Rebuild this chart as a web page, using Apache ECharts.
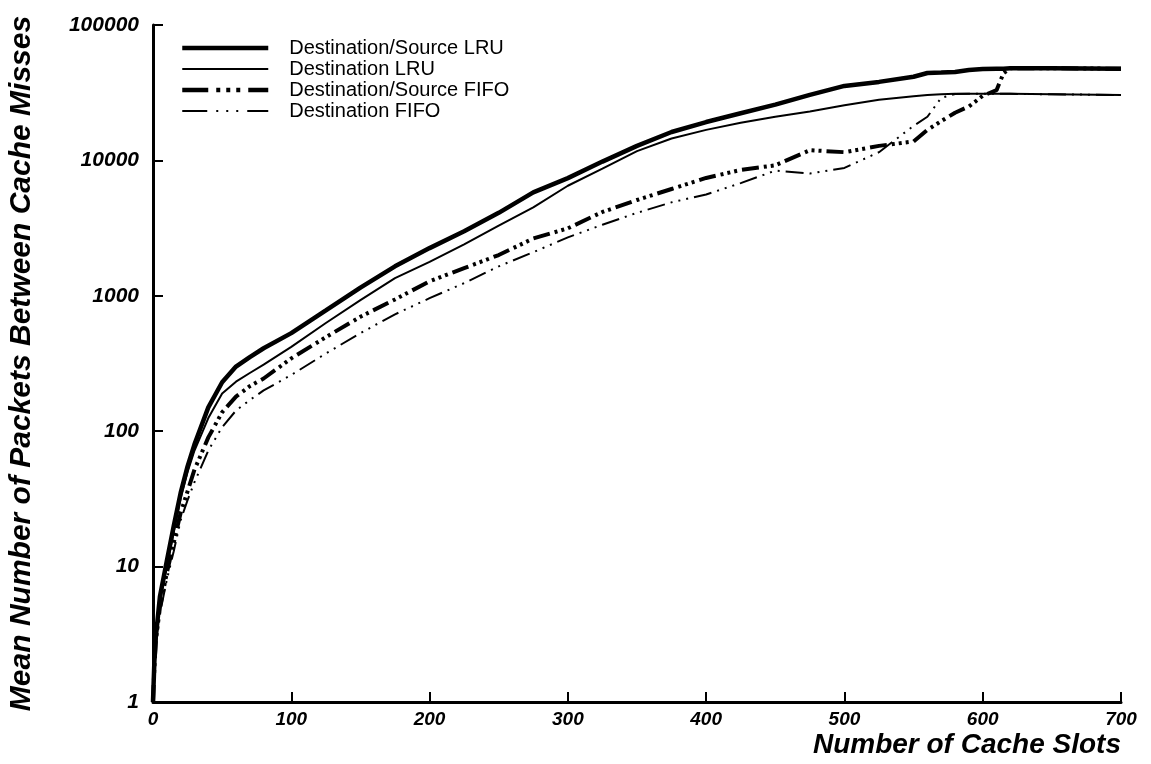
<!DOCTYPE html>
<html>
<head>
<meta charset="utf-8">
<title>Cache Misses</title>
<script src="https://cdn.jsdelivr.net/npm/echarts@6/dist/echarts.min.js"></script>
<style>
  html, body { margin: 0; padding: 0; background: #fff; }
  #main { width: 1151px; height: 764px; }
</style>
</head>
<body>
<div id="main"></div>
<script>
// number of cache slots (x)
const slots = [0, 1, 2, 5, 10, 15, 20, 25, 30, 40, 50, 60, 70, 80, 100, 125, 150, 175, 200, 225, 250, 275, 300, 325, 350, 375, 400, 425, 450, 475, 500, 525, 550, 560, 570, 580, 590, 600, 610, 615, 620, 650, 700];
// mean packets between misses
const srcLru = [1, 2, 3, 6, 11, 20, 35, 55, 80, 150, 230, 300, 353, 410, 530, 780, 1150, 1650, 2250, 3000, 4100, 5800, 7400, 9800, 12800, 16200, 19200, 22300, 25800, 30500, 35500, 38000, 41500, 44200, 44500, 45000, 46500, 47300, 47500, 47600, 48000, 48000, 47500];
const dstLru = [1, 2, 3, 5.5, 10, 18, 32, 50, 72, 125, 190, 232, 269, 310, 420, 630, 930, 1350, 1780, 2400, 3300, 4500, 6500, 8700, 11700, 14500, 16800, 19000, 21000, 23000, 25500, 28000, 29800, 30400, 30800, 31000, 31000, 31000, 31000, 31000, 31000, 30800, 30400];
const srcFifo = [1, 1.8, 2.8, 5, 9, 15, 25, 36, 52, 90, 138, 180, 215, 245, 345, 495, 700, 940, 1280, 1600, 2000, 2650, 3150, 4160, 5100, 6150, 7420, 8500, 9200, 11900, 11500, 12800, 13800, 16800, 19500, 22500, 25000, 30000, 33000, 44000, 48000, 48000, 47500];
const dstFifo = [1, 1.7, 2.6, 4.5, 8, 13, 22, 31, 42, 72, 107, 142, 170, 200, 260, 375, 530, 730, 960, 1240, 1650, 2100, 2700, 3350, 4100, 4900, 5600, 6800, 8400, 8000, 8800, 11500, 18000, 21000, 29000, 30900, 31000, 31000, 31000, 31000, 31000, 30800, 30400];
const seriesNames = ["Destination/Source LRU", "Destination LRU", "Destination/Source FIFO", "Destination FIFO"];

const pairs = (arr) => slots.map((x, i) => [x, arr[i]]);
const labelFont = "'Liberation Sans', Arial, sans-serif";
const titleFont = "'Liberation Sans', Arial, sans-serif";

const chart = echarts.init(document.getElementById("main"));
const option = {
	animation: false,
	backgroundColor: "#fff",
	color: ["#000"],
	grid: {
		left: 153,
		right: 30,
		top: 25,
		bottom: 62,
		containLabel: false,
		outerBoundsMode: "none",
	},
	legend: {
		data: [
			{ name: seriesNames[0], lineStyle: { width: 4.5 } },
			{ name: seriesNames[1], lineStyle: { width: 2 } },
			{ name: seriesNames[2], lineStyle: { width: 4.5, type: [26, 8, 4, 6, 4, 6, 4, 8] } },
			{ name: seriesNames[3], lineStyle: { width: 2, type: [25, 9, 2, 8, 2, 8, 2, 9] } },
		],
		orient: "vertical",
		left: 175,
		top: 33,
		itemWidth: 86,
		itemHeight: 14,
		itemGap: 1,
		itemStyle: { color: "rgba(0,0,0,0)", borderWidth: 0 },
		textStyle: {
			color: "#000",
			fontFamily: labelFont,
			fontSize: 20,
			lineHeight: 20,
			padding: [0, 0, 0, 16],
		},
	},
	xAxis: {
		type: "value",
		min: 0,
		max: 700,
		interval: 100,
		name: "Number of Cache Slots",
		nameLocation: "end",
		nameGap: 0,
		nameTextStyle: {
			color: "#000",
			fontFamily: titleFont,
			fontSize: 28,
			fontWeight: "bold",
			fontStyle: "italic",
			align: "right",
			verticalAlign: "top",
			padding: [29, 0, 0, 0],
		},
		splitLine: { show: false },
		axisLine: { lineStyle: { color: "#000", width: 3 } },
		axisTick: { inside: true, length: 10, lineStyle: { color: "#000", width: 2 } },
		axisLabel: {
			color: "#000",
			fontFamily: labelFont,
			fontSize: 19,
			fontWeight: "bold",
			fontStyle: "italic",
			margin: 8,
		},
	},
	yAxis: {
		type: "log",
		logBase: 10,
		min: 1,
		max: 100000,
		name: "Mean Number of Packets Between Cache Misses",
		nameLocation: "middle",
		nameGap: 116,
		nameTextStyle: {
			color: "#000",
			fontFamily: titleFont,
			fontSize: 30,
			fontWeight: "bold",
			fontStyle: "italic",
		},
		splitLine: { show: false },
		axisLine: { lineStyle: { color: "#000", width: 3 } },
		axisTick: { inside: true, length: 10, lineStyle: { color: "#000", width: 2 } },
		minorTick: { show: false },
		axisLabel: {
			color: "#000",
			fontFamily: labelFont,
			fontSize: 21,
			fontWeight: "bold",
			fontStyle: "italic",
			margin: 14,
			formatter: (v) => String(v),
		},
	},
	series: [
		{
			name: seriesNames[2],
			type: "line",
			symbol: "none",
			z: 2,
			itemStyle: { color: "#000" },
			lineStyle: { color: "#000", width: 4, type: [17, 5, 3, 4, 3, 4, 3, 5] },
			data: pairs(srcFifo),
		},
		{
			name: seriesNames[3],
			type: "line",
			symbol: "none",
			z: 2,
			itemStyle: { color: "#000" },
			lineStyle: { color: "#000", width: 2, type: [18, 6, 2, 6, 2, 6, 2, 6] },
			data: pairs(dstFifo),
		},
		{
			name: seriesNames[0],
			type: "line",
			symbol: "none",
			z: 3,
			itemStyle: { color: "#000" },
			lineStyle: { color: "#000", width: 4.5 },
			data: pairs(srcLru),
		},
		{
			name: seriesNames[1],
			type: "line",
			symbol: "none",
			z: 3,
			itemStyle: { color: "#000" },
			lineStyle: { color: "#000", width: 2 },
			data: pairs(dstLru),
		},
	],
};
chart.setOption(option);
</script>
</body>
</html>
